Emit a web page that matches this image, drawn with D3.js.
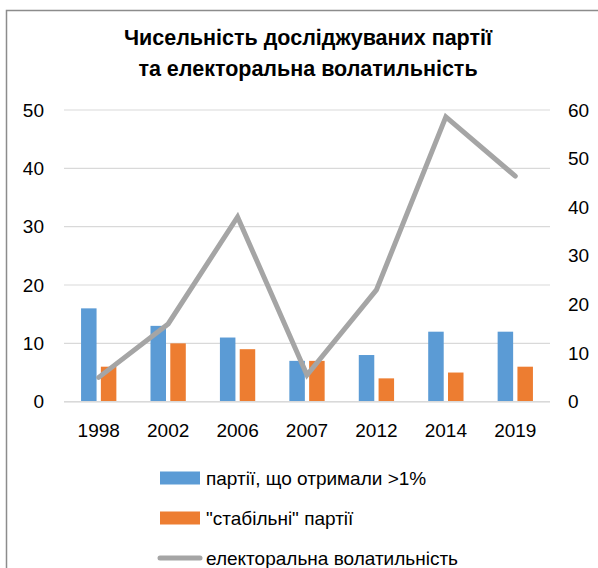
<!DOCTYPE html>
<html><head><meta charset="utf-8">
<script src="https://cdn.jsdelivr.net/npm/d3@7"></script>
<style>body{margin:0;background:#fff}svg{display:block}</style>
</head><body><svg id="c" width="598" height="568"></svg>
<script>
const categories = ["1998","2002","2006","2007","2012","2014","2019"];
const partiesOver1 = [16,13,11,7,8,12,12];
const stableParties = [6,10,9,7,4,5,6];
const volatility = [5,16,38,5.5,23,58.6,46.4];
const leftTicks = [0,10,20,30,40,50];
const rightTicks = [0,10,20,30,40,50,60];
const titleLines = ["Чисельність досліджуваних партії","та електоральна волатильність"];
const seriesNames = ["партії, що отримали >1%","\"стабільні\" партії","електоральна волатильність"];

const FONT = "'Liberation Sans', Arial, sans-serif";
const svg = d3.select("#c");
const blue = "#5B9BD5", orange = "#ED7D31", gray = "#A5A5A5";

// frame
svg.append("rect").attr("x",6.5).attr("y",10.5).attr("width",600).attr("height",600)
  .attr("fill","none").attr("stroke","#8c8c8c").attr("stroke-width",1.5);

// title
svg.append("g").selectAll("text").data(titleLines).join("text")
  .attr("x",308).attr("y",(d,i)=>45+i*31).attr("text-anchor","middle")
  .attr("font-family",FONT).attr("font-weight","bold").attr("font-size",21.5)
  .attr("fill","#000").text(d=>d);

const x0 = 64, x1 = 550, yTop = 110, yBot = 401.7;
const x = d3.scaleBand().domain(categories).range([x0,x1]).paddingInner(0).paddingOuter(0);
const yL = d3.scaleLinear().domain([0,50]).range([yBot,yTop]);
const yR = d3.scaleLinear().domain([0,60]).range([yBot,yTop]);

// gridlines
svg.append("g").selectAll("line").data(leftTicks).join("line")
  .attr("x1",x0).attr("x2",x1).attr("y1",d=>yL(d)).attr("y2",d=>yL(d))
  .attr("stroke","#d9d9d9").attr("stroke-width",1.2);

// left axis
const axL = d3.axisLeft(yL).tickValues(leftTicks).tickSize(0).tickPadding(0);
const gL = svg.append("g").attr("transform","translate(44,0)").call(axL);
gL.select(".domain").remove();
gL.selectAll("text").attr("font-family",FONT).attr("font-size",19).attr("fill","#000");

// right axis
const axR = d3.axisRight(yR).tickValues(rightTicks).tickSize(0).tickPadding(0);
const gR = svg.append("g").attr("transform","translate(568,0)").call(axR);
gR.select(".domain").remove();
gR.selectAll("text").attr("font-family",FONT).attr("font-size",19).attr("fill","#000");

// x axis
const axB = d3.axisBottom(x).tickSize(0).tickPadding(0);
const gB = svg.append("g").attr("transform","translate(0,423)").call(axB);
gB.select(".domain").remove();
gB.selectAll("text").attr("font-family",FONT).attr("font-size",19).attr("fill","#000");

// bars
const bw = 15.5, gap = 4.3;
const sub = d3.scaleBand().domain([0,1]).range([0,2*bw+gap]).paddingInner(gap/(bw+gap));
const groupOff = (x.bandwidth() - (2*bw+gap))/2;
const barG = svg.append("g");
barG.selectAll("rect.b").data(categories).join("rect").attr("class","b")
  .attr("x",(d)=>x(d)+groupOff+sub(0)).attr("width",sub.bandwidth())
  .attr("y",(d,i)=>yL(partiesOver1[i])).attr("height",(d,i)=>yBot-yL(partiesOver1[i]))
  .attr("fill",blue);
barG.selectAll("rect.o").data(categories).join("rect").attr("class","o")
  .attr("x",(d)=>x(d)+groupOff+sub(1)).attr("width",sub.bandwidth())
  .attr("y",(d,i)=>yL(stableParties[i])).attr("height",(d,i)=>yBot-yL(stableParties[i]))
  .attr("fill",orange);

// baseline
svg.append("line").attr("x1",x0).attr("x2",x1).attr("y1",yBot).attr("y2",yBot)
  .attr("stroke","#d9d9d9").attr("stroke-width",1.5);

// line
const line = d3.line().x((d,i)=>x(categories[i])+x.bandwidth()/2).y(d=>yR(d));
svg.append("path").datum(volatility).attr("d",line).attr("fill","none")
  .attr("stroke",gray).attr("stroke-width",5).attr("stroke-linejoin","miter").attr("stroke-linecap","round");

// legend
const lg = svg.append("g");
const ly = [478,518,558];
lg.append("rect").attr("x",160).attr("y",ly[0]-6.5).attr("width",40).attr("height",13).attr("fill",blue);
lg.append("rect").attr("x",160).attr("y",ly[1]-6.5).attr("width",40).attr("height",13).attr("fill",orange);
lg.append("line").attr("x1",160).attr("x2",200).attr("y1",ly[2]).attr("y2",ly[2])
  .attr("stroke",gray).attr("stroke-width",5).attr("stroke-linecap","round");
lg.selectAll("text").data(seriesNames).join("text")
  .attr("x",206).attr("y",(d,i)=>ly[i]).attr("dy","0.35em")
  .attr("font-family",FONT).attr("font-size",19).attr("fill","#000").text(d=>d);
</script></body></html>
